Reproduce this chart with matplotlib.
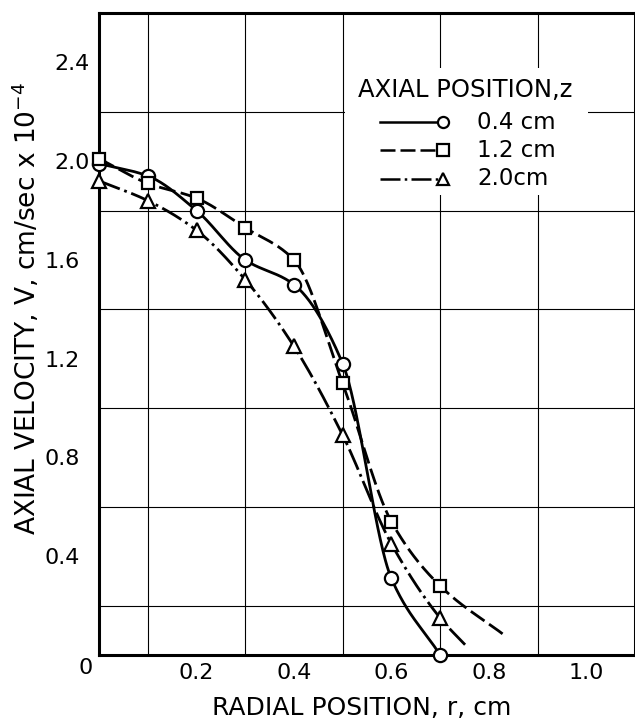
import numpy as np
import matplotlib.pyplot as plt
import matplotlib.transforms as mtransforms
from matplotlib.patches import Rectangle

# radial positions where the points were measured (cm)
r_pts = [0.0, 0.1, 0.2, 0.3, 0.4, 0.5, 0.6, 0.7]

# axial velocity x 10^-4 (cm/sec) for each axial position z
v_04 = [1.99, 1.94, 1.80, 1.60, 1.50, 1.18, 0.31, 0.00]
v_12 = [2.01, 1.91, 1.85, 1.73, 1.60, 1.10, 0.54, 0.28]
v_20 = [1.92, 1.84, 1.72, 1.52, 1.25, 0.89, 0.45, 0.15]

# where the hand drawn curves run out past the last point
tail_12 = (0.834, 0.077)
tail_20 = (0.752, 0.040)

series_labels = ['0.4 cm', '1.2 cm', '2.0cm']
markers = ['o', 's', '^']
msizes = [9.5, 9.0, 10.5]
styles = ['-', (0, (6, 2)), (0, (8, 1.7, 1, 1.7))]


def pchip(x, y, xs):
    # monotone cubic (Fritsch-Carlson) to mimic the french-curve lines
    x = np.asarray(x, float)
    y = np.asarray(y, float)
    h = np.diff(x)
    d = np.diff(y) / h
    m = np.zeros_like(y)
    for k in range(1, len(x) - 1):
        if d[k - 1] * d[k] > 0:
            w1 = 2 * h[k] + h[k - 1]
            w2 = h[k] + 2 * h[k - 1]
            m[k] = (w1 + w2) / (w1 / d[k - 1] + w2 / d[k])
    m[0] = d[0]
    m[-1] = d[-1]
    out = np.empty_like(xs)
    for i, xv in enumerate(xs):
        k = min(np.searchsorted(x, xv, side='right') - 1, len(x) - 2)
        t = (xv - x[k]) / h[k]
        h00 = 2 * t**3 - 3 * t**2 + 1
        h10 = t**3 - 2 * t**2 + t
        h01 = -2 * t**3 + 3 * t**2
        h11 = t**3 - t**2
        out[i] = h00 * y[k] + h10 * h[k] * m[k] + h01 * y[k + 1] + h11 * h[k] * m[k + 1]
    return out


plt.rcParams['font.family'] = 'DejaVu Sans'

fig = plt.figure(figsize=(6.35, 7.2), dpi=100)
ax = fig.add_axes([0.156, 0.0903, 0.844, 0.8917])

curves = [
    (r_pts, v_04),
    (r_pts + [tail_12[0]], v_12 + [tail_12[1]]),
    (r_pts + [tail_20[0]], v_20 + [tail_20[1]]),
]
for (cx, cy), vals, mk, ms, ls in zip(curves, [v_04, v_12, v_20], markers, msizes, styles):
    xs = np.linspace(cx[0], cx[-1], 400)
    ax.plot(xs, pchip(cx, cy, xs), color='black', lw=2.0, linestyle=ls, zorder=3)
    ax.plot(r_pts, vals, linestyle='none', marker=mk, ms=ms, mfc='white',
            mec='black', mew=1.6, zorder=4, clip_on=False)

ax.set_xlim(0, 1.092)
ax.set_ylim(0, 2.6)
ax.set_xticks(np.arange(0, 1.11, 0.1), minor=True)
ax.set_yticks(np.arange(0, 2.61, 0.2), minor=True)
ax.set_xticks([0.2, 0.4, 0.6, 0.8, 1.0])
ax.set_xticklabels(['0.2', '0.4', '0.6', '0.8', '1.0'])
ax.set_yticks([0.4, 0.8, 1.2, 1.6, 2.0, 2.4])
ax.set_yticklabels(['0.4', '0.8', '1.2', '1.6', '2.0', '2.4'])
ax.grid(which='minor', color='black', lw=0.8)
ax.tick_params(which='both', length=0, labelsize=16)
ax.tick_params(axis='x', pad=6)
ax.tick_params(axis='y', pad=14)
# the upper two numbers were lettered closer to the axis
for lab in ax.get_yticklabels()[-2:]:
    lab.set_transform(lab.get_transform() +
                      mtransforms.ScaledTranslation(10 / 100, 0, fig.dpi_scale_trans))
for s in ax.spines.values():
    s.set_linewidth(2.2)
ax.annotate('0', xy=(0, 0), xycoords='data', xytext=(-10, -9.5),
            textcoords='offset points', ha='center', va='center', fontsize=16)

ax.set_xlabel('RADIAL POSITION, r, cm', fontsize=18, va='center')
ax.xaxis.set_label_coords(0.49, -0.083)
ax.set_ylabel(r'AXIAL VELOCITY, V, cm/sec x 10$^{-4}$', fontsize=19,
              va='center', ha='center')
ax.yaxis.set_label_coords(-0.136, 0.539)

# legend drawn by hand: marker sits at the right end of each sample line
ax.add_patch(Rectangle((0.459, 0.717), 0.453, 0.197, transform=ax.transAxes,
                       facecolor='white', edgecolor='none', zorder=5))
ax.text(0.483, 0.880, 'AXIAL POSITION,z', transform=ax.transAxes,
        fontsize=17.5, va='center', zorder=6)
row_y = [0.830, 0.786, 0.742]
for yy, lab, mk, ls in zip(row_y, series_labels, markers, styles):
    ax.plot([0.524, 0.642], [yy, yy], transform=ax.transAxes, color='black',
            lw=1.8, linestyle=ls, zorder=6)
    ax.plot([0.642], [yy], transform=ax.transAxes, marker=mk, ms=8, mfc='white',
            mec='black', mew=1.6, zorder=7)
    ax.text(0.705, yy, lab, transform=ax.transAxes, fontsize=16.5, va='center', zorder=6)

fig.savefig('out.png', dpi=100)
